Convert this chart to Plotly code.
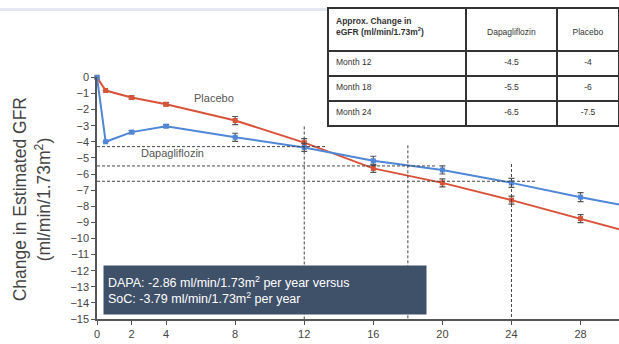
import plotly.graph_objects as go

# ---- data ----
months = [0, 0.5, 2, 4, 8, 12, 16, 20, 24, 28, 32]
placebo = [0, -0.82, -1.25, -1.67, -2.68, -4.05, -5.65, -6.55, -7.62, -8.77, -9.95]
dapa = [0, -4.0, -3.4, -3.03, -3.72, -4.35, -5.18, -5.75, -6.55, -7.44, -8.25]
placebo_err = [0, 0, 0.1, 0.1, 0.25, 0.25, 0.25, 0.25, 0.25, 0.25, 0.25]
dapa_err = [0, 0, 0.1, 0.1, 0.25, 0.25, 0.28, 0.25, 0.28, 0.28, 0.28]

xticks = [0, 2, 4, 8, 12, 16, 20, 24, 28]
yticks = list(range(-15, 1))

# reference (dashed) lines
h_levels = [-4.3, -5.5, -6.45]
h_ends = [13.3, 19.6, 25.4]
v_months = [12, 18, 24]
v_tops = [-3.05, -4.22, -5.38]

table_header = ["<b>Approx. Change in<br>eGFR (ml/min/1.73m<sup>2</sup>)</b>",
                "\u00a0<br>Dapagliflozin", "\u00a0<br>Placebo"]
table_rows = ["Month 12", "Month 18", "Month 24"]
table_dapa = ["-4.5", "-5.5", "-6.5"]
table_placebo = ["-4", "-6", "-7.5"]

RED = "#d9533a"
BLUE = "#4f86d8"

W, H = 619, 344
L, B = 97, 25
plot_top_px = 72.7

fig = go.Figure()

n_vis = 10  # points inside visible window
for ys, errs, col in [(placebo, placebo_err, RED), (dapa, dapa_err, BLUE)]:
    fig.add_trace(go.Scatter(x=months, y=ys, mode="lines",
                             line=dict(color=col, width=2), showlegend=False,
                             hoverinfo="skip"))
    fig.add_trace(go.Scatter(x=months[:n_vis], y=ys[:n_vis], mode="markers",
                             marker=dict(color=col, size=5, symbol="square"),
                             error_y=dict(type="data", array=errs[:n_vis], visible=True,
                                          color="#555555", thickness=1.2, width=3),
                             cliponaxis=False, showlegend=False))

shapes = []
for lvl, end in zip(h_levels, h_ends):
    shapes.append(dict(type="line", xref="x", yref="y", x0=0, x1=end, y0=lvl, y1=lvl,
                       line=dict(color="#444444", width=1, dash="3px,2px")))
for m, top in zip(v_months, v_tops):
    shapes.append(dict(type="line", xref="x", yref="y", x0=m, x1=m, y0=top, y1=-15,
                       line=dict(color="#444444", width=1, dash="3px,2px")))
# faint band at top of the image
ph = H - B
shapes.append(dict(type="rect", xref="paper", yref="paper", x0=-L / (W - L), x1=1,
                   y0=1 - 5 / ph, y1=1 - 2 / ph, line=dict(width=0),
                   fillcolor="#e3e8ef", layer="below"))

ydom_top = (ph - plot_top_px) / ph

fig.update_layout(
    width=W, height=H,
    margin=dict(l=L, r=0, t=0, b=B),
    paper_bgcolor="white", plot_bgcolor="white",
    font=dict(family="Liberation Sans, Arial, sans-serif", color="#333333"),
    shapes=shapes,
    xaxis=dict(range=[0, (W - L) / 17.27], tickvals=xticks, ticks="outside", ticklen=4,
               tickcolor="#555555", showline=True, linecolor="#555555", linewidth=1.5,
               showgrid=False, zeroline=False, tickfont=dict(size=11, color="#444444")),
    yaxis=dict(range=[-15, 0], domain=[0, ydom_top], tickvals=yticks, ticks="outside",
               ticklen=4, tickcolor="#555555", showline=True, linecolor="#555555",
               linewidth=1.5, showgrid=False, zeroline=False,
               tickfont=dict(size=11, color="#444444")),
    annotations=[
        dict(text="Placebo", x=6.75, y=-1.26, xref="x", yref="y", showarrow=False,
             font=dict(size=11, color="#555555")),
        dict(text="Dapagliflozin", x=4.35, y=-4.72, xref="x", yref="y", showarrow=False,
             font=dict(size=11, color="#555555")),
        dict(text="DAPA: -2.86 ml/min/1.73m<sup>2</sup> per year versus<br>SoC: -3.79 ml/min/1.73m<sup>2</sup> per year",
             x=0.35, y=-11.63, xref="x", yref="y", xanchor="left", yanchor="top",
             showarrow=False, align="left", width=314, height=40, borderpad=4,
             bgcolor="#3f5069", font=dict(size=12.5, color="white")),
        dict(text="Change in Estimated GFR", x=-(L - 20) / (W - L), y=1 - 197 / ph,
             xref="paper", yref="paper", xanchor="center", yanchor="middle",
             textangle=-90, showarrow=False, font=dict(size=17.5, color="#444444")),
        dict(text="(ml/min/1.73m<sup>2</sup>)", x=-(L - 43) / (W - L), y=1 - 197 / ph,
             xref="paper", yref="paper", xanchor="center", yanchor="middle",
             textangle=-90, showarrow=False, font=dict(size=17.5, color="#444444")),
    ],
)

tx0 = (328 - L) / (W - L)
ty1 = 1 - 2 / ph
ty0 = 1 - 126 / ph
fig.add_trace(go.Table(
    domain=dict(x=[tx0, 1], y=[ty0, ty1]),
    columnwidth=[138, 91, 62],
    header=dict(values=table_header, height=43, align=["left", "center", "center"],
                fill_color="white", line=dict(color="#333333", width=2),
                font=dict(size=8.5, color="#333333")),
    cells=dict(values=[table_rows, table_dapa, table_placebo], height=25,
               align=["left", "center", "center"], fill_color="white",
               line=dict(color="#333333", width=2),
               font=dict(size=8.5, color="#333333")),
))

fig.write_html("out.html", config={"displayModeBar": False},
               post_script="document.body.style.margin='0';")
